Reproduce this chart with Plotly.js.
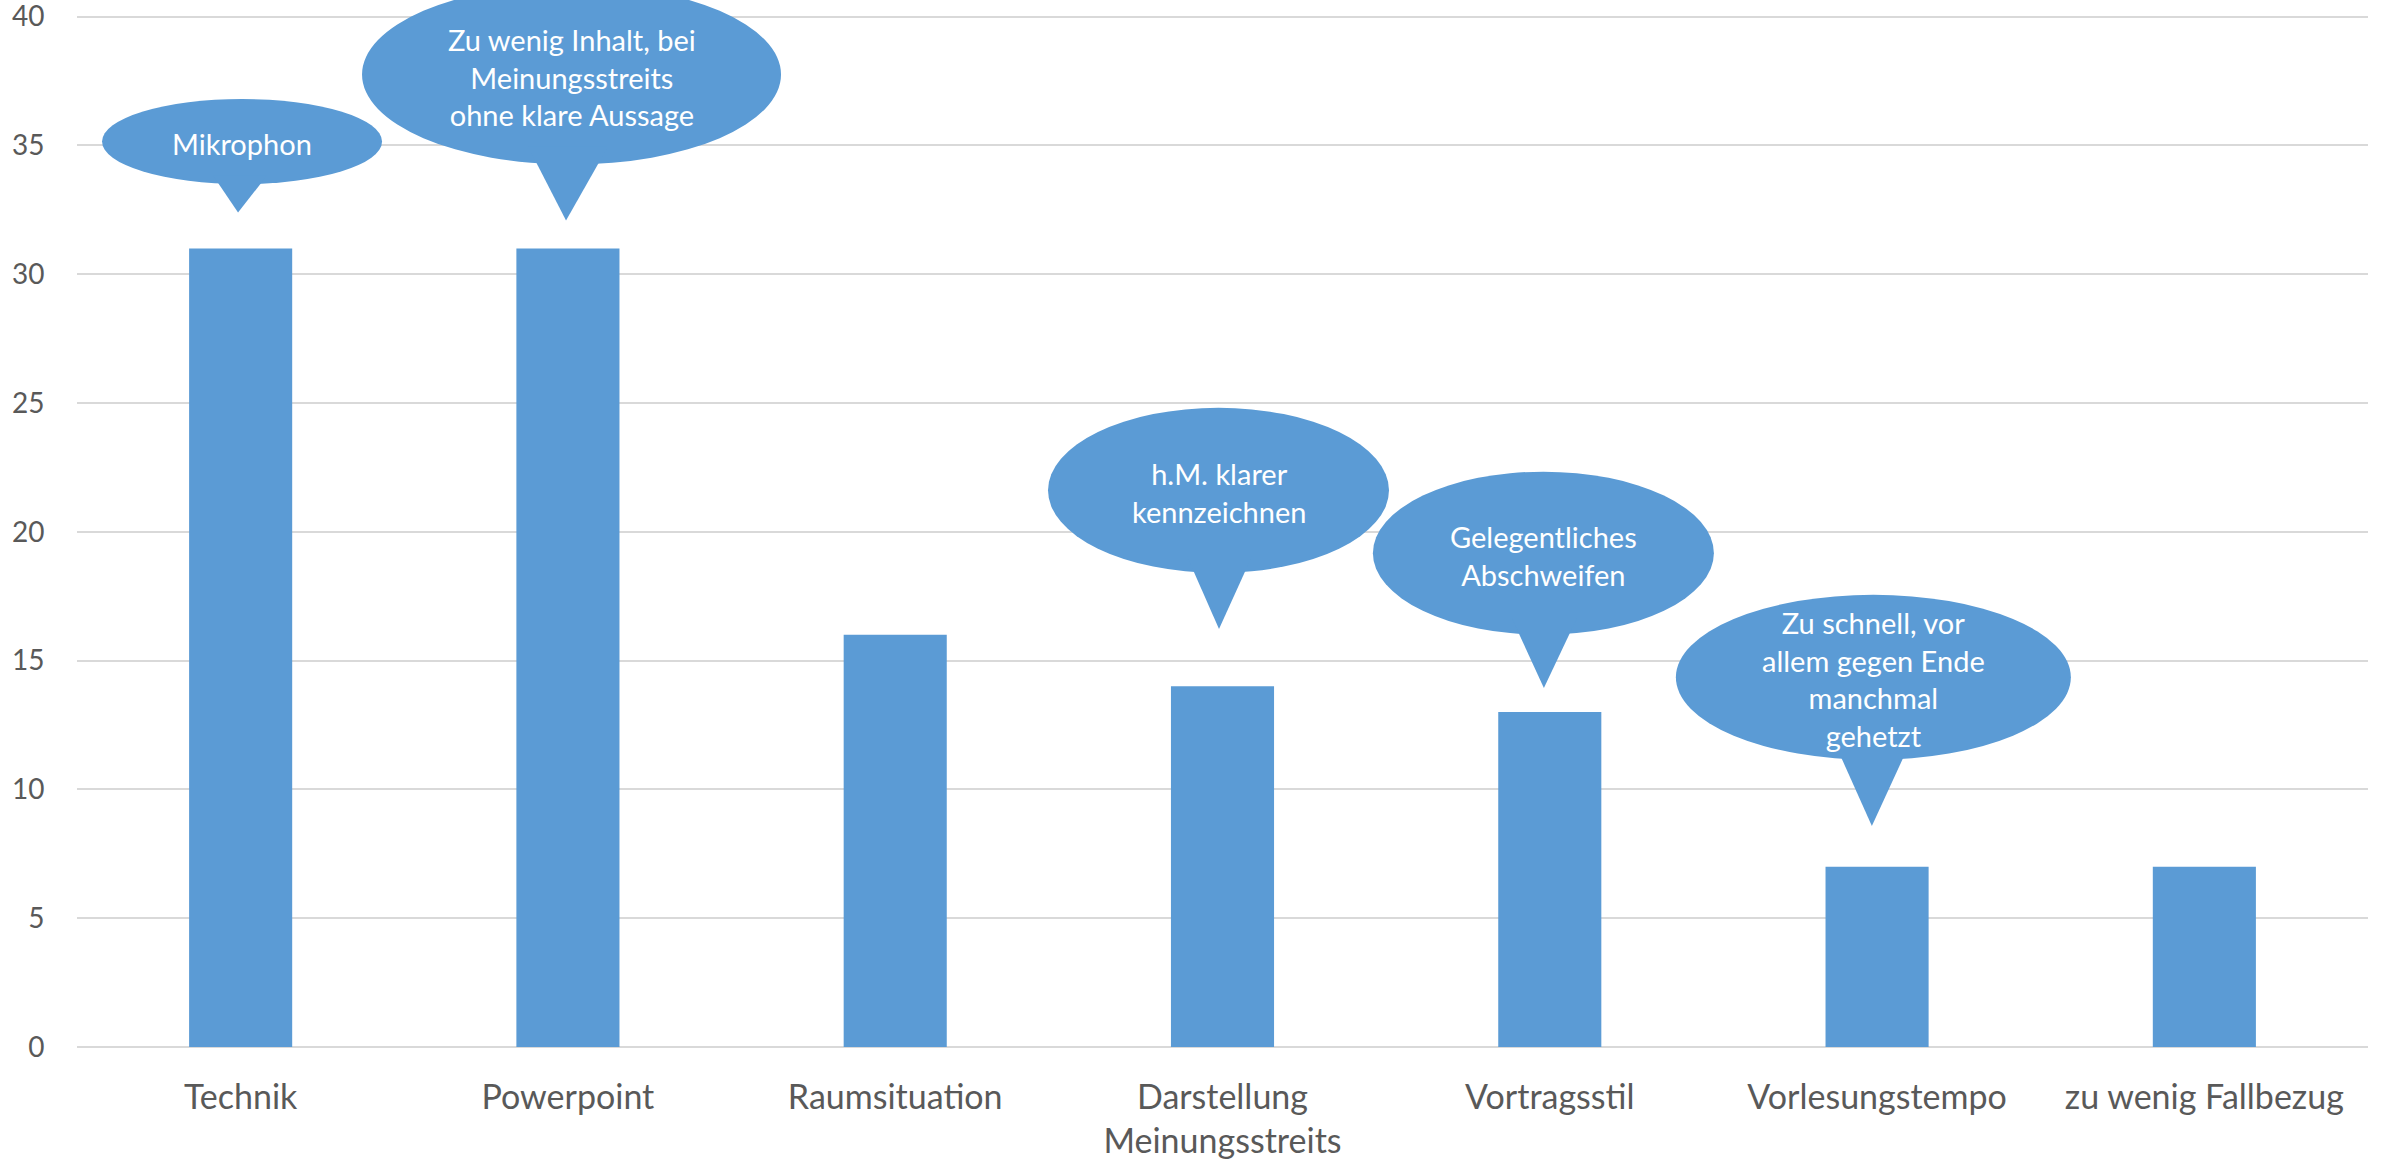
<!DOCTYPE html>
<html>
<head>
<meta charset="utf-8">
<script src="https://cdn.plot.ly/plotly-3.0.1.min.js"></script>
<style>
  html, body { margin: 0; padding: 0; background: #ffffff; }
  #chart { width: 2385px; height: 1161px; }
</style>
</head>
<body>
<div id="chart"></div>
<script>
// ---- Data ----
const categories = [
  'Technik',
  'Powerpoint',
  'Raumsituation',
  'Darstellung<br>Meinungsstreits',
  'Vortragsstil',
  'Vorlesungstempo',
  'zu wenig Fallbezug'
];
const counts = [31, 31, 16, 14, 13, 7, 7];
const yTickValues = [0, 5, 10, 15, 20, 25, 30, 35, 40];

// Callout texts and the category each callout belongs to
const calloutCategoryIndex = [0, 1, 3, 4, 5];
const calloutTexts = [
  'Mikrophon',
  'Zu wenig Inhalt, bei<br>Meinungsstreits<br>ohne klare Aussage',
  'h.M. klarer<br>kennzeichnen',
  'Gelegentliches<br>Abschweifen',
  'Zu schnell, vor<br>allem gegen Ende<br>manchmal<br>gehetzt'
];

// ---- Layout / geometry (styling, not data) ----
const W = 2385, H = 1161;
const yTop = 40.06;               // small headroom so the 40 gridline/label are drawn
const M = { l: 77, r: 17, t: 15, b: 114 };
const plotW = W - M.l - M.r;
const plotH = H - M.t - M.b;
const blue = '#5B9BD5';

// Callout geometry: centre offset (px) from the bar centre, centre height (value),
// radii (px), pointer tip (value) and pointer base offsets (px, relative to ellipse centre)
const calloutGeom = [
  { dx: 1.4,  cy: 35.15, rx: 140,   ry: 42.5, tipDx: -4,   tipY: 32.39, baseL: -29,   baseR: 25 },
  { dx: 3.6,  cy: 37.75, rx: 209.5, ry: 90,   tipDx: -5.5, tipY: 32.08, baseL: -43.5, baseR: 36.5 },
  { dx: -4,   cy: 21.61, rx: 170.5, ry: 82.5, tipDx: 0.5,  tipY: 16.23, baseL: -31.5, baseR: 33.5 },
  { dx: -6.4, cy: 19.17, rx: 170.5, ry: 81.5, tipDx: 0.5,  tipY: 13.94, baseL: -31.5, baseR: 33.5 },
  { dx: -3.7, cy: 14.35, rx: 197.5, ry: 82.5, tipDx: -1.5, tipY: 8.58,  baseL: -38.5, baseR: 36.5 }
];

function xP(idx, dxPx) { return (idx + 0.5) / categories.length + dxPx / plotW; }
function yP(val, dyPx) { return val / yTop + (dyPx || 0) / plotH; }

const shapes = [];
const annotations = [];
calloutGeom.forEach((g, i) => {
  const idx = calloutCategoryIndex[i];
  const cxPx = g.dx;
  shapes.push({
    type: 'circle', xref: 'paper', yref: 'paper', layer: 'above',
    x0: xP(idx, cxPx - g.rx), x1: xP(idx, cxPx + g.rx),
    y0: yP(g.cy, -g.ry), y1: yP(g.cy, g.ry),
    fillcolor: blue, line: { width: 0 }
  });
  const by = yP(g.cy, -g.ry * 0.8);
  const path = 'M ' + xP(idx, cxPx + g.baseL) + ',' + by +
               ' L ' + xP(idx, cxPx + g.baseR) + ',' + by +
               ' L ' + xP(idx, cxPx + g.tipDx) + ',' + yP(g.tipY) + ' Z';
  shapes.push({
    type: 'path', xref: 'paper', yref: 'paper', layer: 'above',
    path: path, fillcolor: blue, line: { width: 0 }
  });
  annotations.push({
    xref: 'paper', yref: 'paper',
    x: xP(idx, cxPx), y: yP(g.cy, -2),
    xanchor: 'center', yanchor: 'middle',
    text: calloutTexts[i], showarrow: false, align: 'center',
    font: { family: 'Lato', size: 29, color: '#ffffff' }
  });
});

const trace = {
  type: 'bar',
  x: categories,
  y: counts,
  marker: { color: blue, line: { width: 0 } },
  hoverinfo: 'skip'
};

const layout = {
  width: W, height: H,
  margin: M,
  paper_bgcolor: '#ffffff',
  plot_bgcolor: '#ffffff',
  showlegend: false,
  bargap: 0.685,
  font: { family: 'Lato', color: '#595959' },
  xaxis: {
    type: 'category',
    tickfont: { family: 'Lato', size: 34, color: '#595959' },
    ticks: 'outside', ticklen: 20, tickcolor: 'rgba(0,0,0,0)',
    showline: false, showgrid: false, zeroline: false,
    automargin: false,
    fixedrange: true
  },
  yaxis: {
    range: [0, yTop],
    tickmode: 'array', tickvals: yTickValues, ticktext: yTickValues.map(String),
    tickfont: { family: 'Lato', size: 28, color: '#595959' },
    ticks: 'outside', ticklen: 26, tickcolor: 'rgba(0,0,0,0)',
    ticklabeloverflow: 'allow',
    showline: false,
    gridcolor: '#D9D9D9', gridwidth: 2,
    zeroline: true, zerolinecolor: '#D9D9D9', zerolinewidth: 2,
    automargin: false,
    fixedrange: true
  },
  shapes: shapes,
  annotations: annotations
};

Plotly.newPlot('chart', [trace], layout, { displayModeBar: false, staticPlot: true });
</script>
</body>
</html>
